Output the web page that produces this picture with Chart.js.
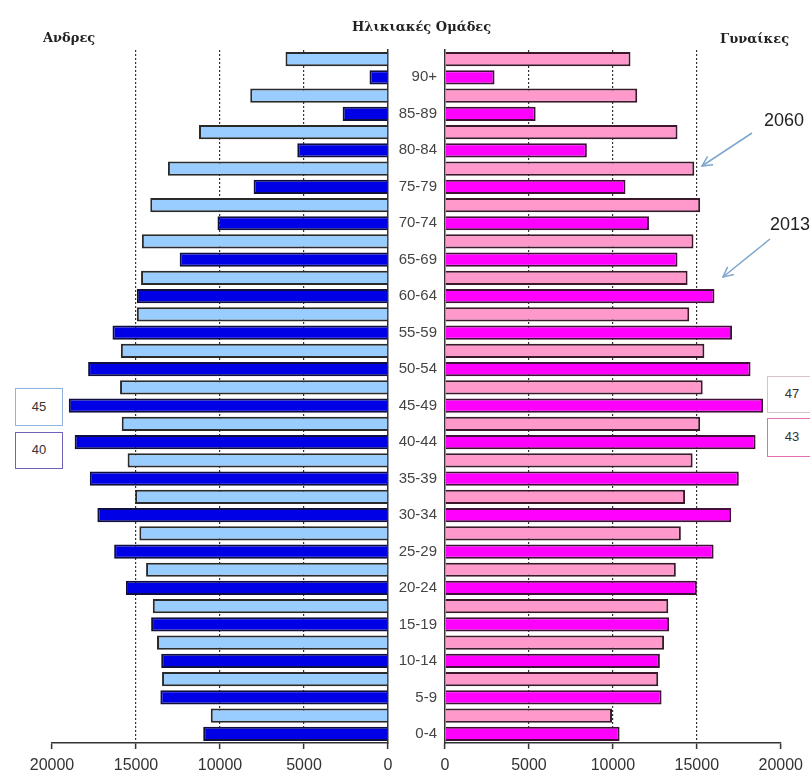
<!DOCTYPE html>
<html lang="el">
<head>
<meta charset="UTF-8">
<title>Πυραμίδα πληθυσμού 2013 - 2060</title>
<script src="https://cdn.jsdelivr.net/npm/chart.js"></script>
<style>
  body { margin: 0; background: #fff; }
  #wrap { position: relative; width: 810px; height: 773px; overflow: hidden; font-family: "Liberation Sans", Arial, sans-serif; }
  #wrap canvas, #wrap svg { position: absolute; left: 0; top: 0; }
  .title { position: absolute; font-family: "DejaVu Serif", serif; font-weight: bold; font-size: 13px; color: #222; white-space: nowrap; line-height: 16px; }
  .year { position: absolute; font-size: 18px; color: #222; line-height: 20px; }
  .box { position: absolute; border: 1.5px solid; background: #fff; font-size: 13px; color: #333; text-align: center; box-sizing: border-box; }
</style>
</head>
<body>
<div id="wrap">
  <canvas id="men" width="810" height="773"></canvas>
  <canvas id="women" width="810" height="773"></canvas>
  <svg width="810" height="773">
    <defs>
      <marker id="head" markerWidth="12" markerHeight="12" refX="11" refY="6" orient="auto" markerUnits="userSpaceOnUse">
        <path d="M1,1 L11,6 L1,11" fill="none" stroke="#7fa6cc" stroke-width="1.5"/>
      </marker>
    </defs>
    <line x1="752" y1="133" x2="702" y2="166" stroke="#7fa6cc" stroke-width="1.5" marker-end="url(#head)"/>
    <line x1="770" y1="239" x2="723" y2="277" stroke="#7fa6cc" stroke-width="1.5" marker-end="url(#head)"/>
  </svg>
  <div class="title" style="left:43px; top:30px;">Ανδρες</div>
  <div class="title" style="left:352px; top:19px;">Ηλικιακές Ομάδες</div>
  <div class="title" style="left:720px; top:31px;">Γυναίκες</div>
  <div class="year" style="left:764px; top:110px;">2060</div>
  <div class="year" style="left:770px; top:214px;">2013</div>
  <div class="box" style="left:15px; top:388px; width:48px; height:38px; line-height:35px; border-color:#8fb4e0;">45</div>
  <div class="box" style="left:15px; top:432px; width:48px; height:37px; line-height:34px; border-color:#6f62b8;">40</div>
  <div class="box" style="left:767px; top:376px; width:50px; height:37px; line-height:34px; border-color:#d8c2d0;">47</div>
  <div class="box" style="left:767px; top:418px; width:50px; height:39px; line-height:36px; border-color:#e070b0;">43</div>
</div>

<script>
  // age groups, top of the pyramid first
  const ageGroups = ['90+', '85-89', '80-84', '75-79', '70-74', '65-69', '60-64', '55-59', '50-54', '45-49',
                     '40-44', '35-39', '30-34', '25-29', '20-24', '15-19', '10-14', '5-9', '0-4'];

  const men2060 = [6100, 8200, 11250, 13100, 14150, 14650, 14700, 14950, 15900, 15950,
                   15850, 15500, 15050, 14800, 14400, 14000, 13750, 13450, 10550];
  const men2013 = [1100, 2700, 5400, 8000, 10150, 12400, 14950, 16400, 17850, 19000,
                   18650, 17750, 17300, 16300, 15600, 14100, 13500, 13550, 11000];
  const women2060 = [11050, 11450, 13850, 14850, 15200, 14800, 14450, 14550, 15450, 15350,
                     15200, 14750, 14300, 14050, 13750, 13300, 13050, 12700, 9950];
  const women2013 = [2950, 5400, 8450, 10750, 12150, 13850, 16050, 17100, 18200, 18950,
                     18500, 17500, 17050, 16000, 15000, 13350, 12800, 12900, 10400];

  const xMax = 20000;
  const xStep = 5000;

  // every age group gets two rows: 2060 on top, 2013 below (with the label)
  const rows = [];
  ageGroups.forEach(a => { rows.push(''); rows.push(a); });

  function spread(values, slot) {
    const out = new Array(rows.length).fill(null);
    values.forEach((v, i) => { out[i * 2 + slot] = v; });
    return out;
  }

  const tickFont = { family: "'Liberation Sans', Arial, sans-serif", size: 16 };

  function gridColor(c) {
    if (!c.tick) return '#333';
    return (c.tick.value === 0 || c.tick.value === xMax) ? 'rgba(0,0,0,0)' : '#333';
  }

  function xScale(reverse) {
    return {
      reverse: reverse,
      min: 0,
      max: xMax,
      ticks: { stepSize: xStep, callback: v => String(v), font: tickFont, color: '#333', padding: 7, maxRotation: 0 },
      grid: { color: gridColor, lineWidth: 1.2, tickColor: '#333', tickLength: 6, tickWidth: 1.5 },
      border: { color: '#333', width: 1.5, dash: [2, 2] },
      afterFit: s => { s.height = 30; }
    };
  }

  const barDefaults = { grouped: false, categoryPercentage: 1, barPercentage: 0.78 };

  new Chart(document.getElementById('men'), {
    type: 'bar',
    data: {
      labels: rows,
      datasets: [
        { label: '2060', data: spread(men2060, 0), backgroundColor: '#99ccff', borderColor: '#2a2a2a', borderWidth: 2 },
        { label: '2013', data: spread(men2013, 1), backgroundColor: '#0000e6', borderColor: '#101040', borderWidth: 2 }
      ]
    },
    options: {
      indexAxis: 'y',
      responsive: false,
      animation: false,
      layout: { padding: { left: 52, right: 422, top: 50, bottom: 0 } },
      datasets: { bar: barDefaults },
      plugins: { legend: { display: false }, tooltip: { enabled: false } },
      scales: {
        x: xScale(true),
        y: {
          position: 'right',
          ticks: { display: false },
          grid: { display: false, drawTicks: false },
          border: { color: '#333', width: 1.5 },
          afterFit: s => { s.width = 0; }
        }
      }
    }
  });

  new Chart(document.getElementById('women'), {
    type: 'bar',
    data: {
      labels: rows,
      datasets: [
        { label: '2060', data: spread(women2060, 0), backgroundColor: '#ff99cc', borderColor: '#3a1a2a', borderWidth: 2 },
        { label: '2013', data: spread(women2013, 1), backgroundColor: '#ff00ff', borderColor: '#401038', borderWidth: 2 }
      ]
    },
    options: {
      indexAxis: 'y',
      responsive: false,
      animation: false,
      layout: { padding: { left: 388, right: 27, top: 50, bottom: 0 } },
      datasets: { bar: barDefaults },
      plugins: { legend: { display: false }, tooltip: { enabled: false } },
      scales: {
        x: xScale(false),
        y: {
          position: 'left',
          ticks: { autoSkip: false, font: { family: "'Liberation Sans', Arial, sans-serif", size: 15 }, color: '#444', padding: 8 },
          grid: { display: false, drawTicks: false },
          border: { color: '#333', width: 1.5 },
          afterFit: s => { s.width = 57; }
        }
      }
    }
  });
</script>
</body>
</html>
